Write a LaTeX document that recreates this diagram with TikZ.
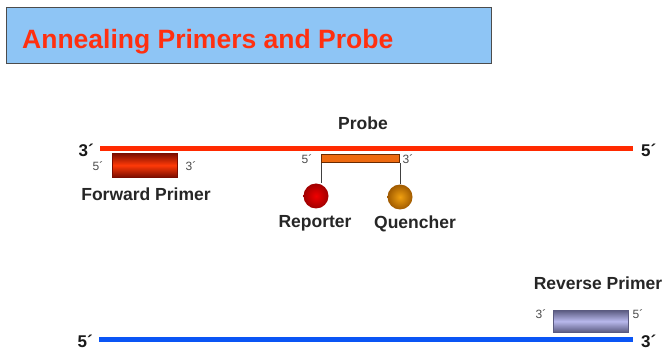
\documentclass[tikz,border=0pt]{standalone}
\usepackage{fontspec}
\setmainfont{Liberation Sans}
\definecolor{titleblue}{HTML}{8EC5F5}
\definecolor{titlered}{HTML}{FF3010}
\definecolor{redstrand}{HTML}{FF2A00}
\definecolor{bluestrand}{HTML}{0A55F5}
\definecolor{darkred}{HTML}{7A0C00}
\definecolor{brightred}{HTML}{FF3A08}
\definecolor{probeorange}{HTML}{EE6A10}
\definecolor{probebrown}{HTML}{6A2A00}
\definecolor{lav}{HTML}{B8B8EC}
\definecolor{lavdark}{HTML}{5A5A80}
\definecolor{repred}{HTML}{F00000}
\definecolor{repdark}{HTML}{A00000}
\definecolor{quenorange}{HTML}{F0A010}
\definecolor{quendark}{HTML}{A05A00}
\begin{document}
\begin{tikzpicture}[x=1pt,y=-1pt,
  strand/.style={line width=5pt, line cap=butt},
  lbl/.style={font=\bfseries\fontsize{17.5}{20}\selectfont, text=black!85, inner sep=0},
  endbig/.style={font=\bfseries\fontsize{17}{20}\selectfont, text=black!90, inner sep=0},
  endsmall/.style={font=\fontsize{12}{14}\selectfont, text=black!70, inner sep=0},
  primerbox/.style={inner sep=0, anchor=north west},
  dyeball/.style={circle, inner sep=0, minimum size=25pt},
  stem/.style={draw=black!75, line width=0.8pt}
]
\useasboundingbox[fill=white] (0,0) rectangle (668,352);
% title
\node[draw=black!70, line width=1pt, fill=titleblue, minimum width=485pt,
      minimum height=56pt, anchor=north west, inner sep=0] (title) at (6,7) {};
\node[anchor=base west, text=titlered, font=\bfseries\fontsize{26.5}{30}\selectfont,
      inner sep=0] (titletext) at (22,49) {Annealing Primers and Probe};
% top strand
\coordinate (ta) at (100,149);
\coordinate (tb) at (633,149);
\draw[strand, redstrand] (ta) -- (tb);
\node[endbig, anchor=base east] (t3) at (94,157) {3´};
\node[endbig, anchor=base west] (t5) at (641,157) {5´};
% forward primer
\node[primerbox, minimum width=65pt, minimum height=24pt,
      top color=darkred, bottom color=darkred, middle color=brightred,
      draw=darkred, line width=0.5pt] (fwd) at (112,153) {};
\node[endsmall] (fwd5) at (98,166) {5´};
\node[endsmall] (fwd3) at (191,166) {3´};
\node[lbl] (fwdlbl) at (146,194) {Forward Primer};
% probe
\node[lbl] (probelbl) at (363,123) {Probe};
\node[primerbox, minimum width=78pt, minimum height=8pt, fill=probeorange,
      draw=probebrown, line width=1.2pt] (probe) at (321,154) {};
\node[endsmall] (pr5) at (307,159) {5´};
\node[endsmall] (pr3) at (408,159) {3´};
\node[dyeball, inner color=repred, outer color=repdark] (reporter) at (316,196) {};
\node[dyeball, inner color=quenorange, outer color=quendark] (quencher) at (400,197) {};
\draw[stem] (probe.south west) -- (probe.south west |- reporter.north);
\draw[stem] (probe.south east) -- (probe.south east |- quencher.north);
\node[lbl] (replbl) at (315,223) {Reporter};
\node[lbl] (quenlbl) at (415,224) {Quencher};
% reverse primer
\node[lbl] (revlbl) at (598,283) {Reverse Primer};
\node[primerbox, minimum width=75pt, minimum height=22pt,
      top color=lavdark, bottom color=lavdark, middle color=lav,
      draw=lavdark, line width=0.5pt] (rev) at (553,310) {};
\node[endsmall] (rev3) at (541,314) {3´};
\node[endsmall] (rev5) at (638,314) {5´};
% bottom strand
\coordinate (ba) at (99,339);
\coordinate (bb) at (633,339);
\draw[strand, bluestrand] (ba) -- (bb);
\node[endbig, anchor=base east] (b5) at (93,347) {5´};
\node[endbig, anchor=base west] (b3) at (641,347) {3´};
\end{tikzpicture}
\end{document}
